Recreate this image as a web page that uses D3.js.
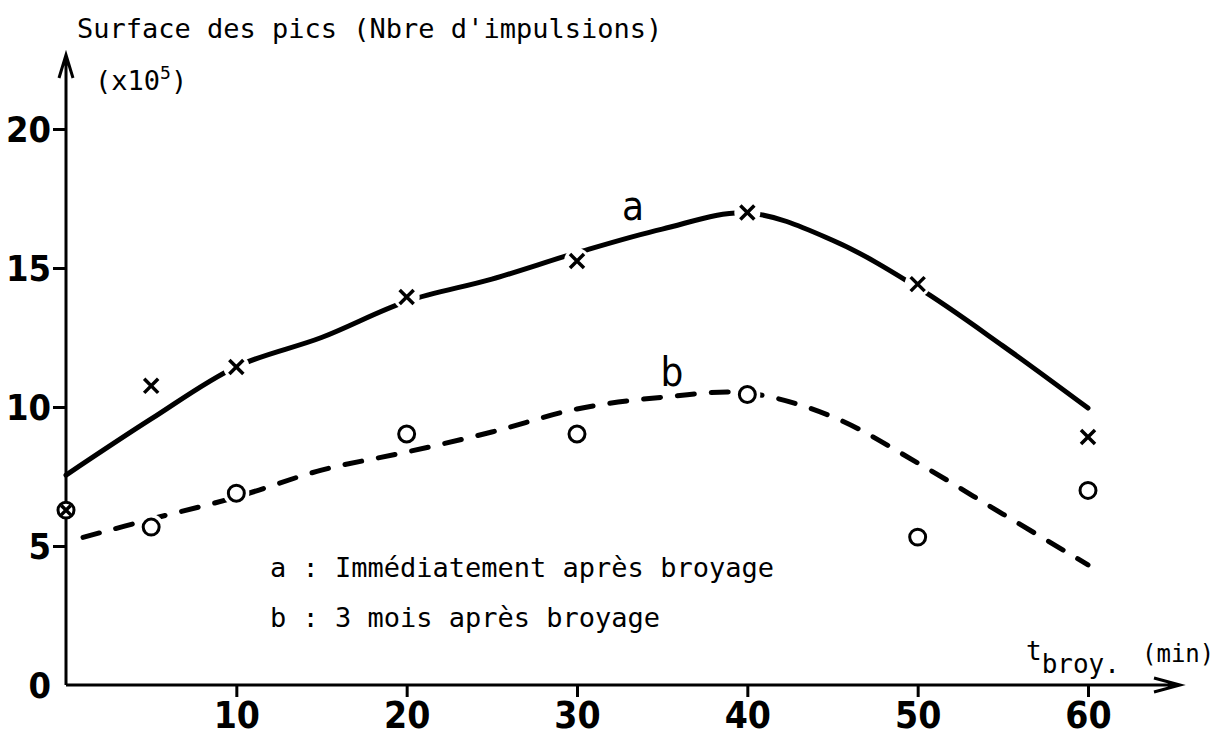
<!DOCTYPE html>
<html>
<head>
<meta charset="utf-8">
<script src="https://cdn.jsdelivr.net/npm/d3@7"></script>
<style>
  body { margin: 0; background: #fff; }
  svg { display: block; }
</style>
</head>
<body>
<div id="chart"></div>
<script>
// measured points (x = grinding time in min, y = peak area x10^5)
const aTimes = [0, 5, 10, 20, 30, 40, 50, 60];
const aValues = [6.29, 10.76, 11.44, 13.96, 15.25, 17.0, 14.42, 8.92];
const bTimes = [0, 5, 10, 20, 30, 40, 50, 60];
const bValues = [6.29, 5.68, 6.9, 9.03, 9.03, 10.45, 5.32, 7.0];

// hand-drawn fitted curves
const aCurveTimes = [0, 5, 10, 15, 20, 25, 30, 35, 40, 45, 50, 55, 60];
const aCurveValues = [7.55, 9.57, 11.45, 12.5, 13.8, 14.6, 15.55, 16.4, 16.98, 16.0, 14.3, 12.2, 9.96];
const bCurveTimes = [1, 5, 10, 15, 20, 25, 30, 35, 40, 45, 50, 55, 60];
const bCurveValues = [5.31, 5.97, 6.76, 7.73, 8.38, 9.1, 9.93, 10.35, 10.5, 9.65, 7.99, 6.15, 4.32];

const xTicks = [10, 20, 30, 40, 50, 60];
const yTicks = [0, 5, 10, 15, 20];
const legendLines = ["a : Immédiatement après broyage", "b : 3 mois après broyage"];

const W = 1225, H = 740;
const numFont = '"DejaVu Sans Condensed", "DejaVu Sans", sans-serif';
const monoFont = '"DejaVu Sans Mono", "Liberation Mono", monospace';

const svg = d3.select('#chart').append('svg')
  .attr('width', W)
  .attr('height', H);

const x = d3.scaleLinear().domain([0, 60]).range([66, 1088]);
const y = d3.scaleLinear().domain([0, 20]).range([685, 129]);

// axes (lines with arrows)
svg.append('path')
  .attr('d', `M${x(0)},${y(0)}V55M${x(0) - 7},78L${x(0)},55L${x(0) + 7},78`)
  .attr('fill', 'none').attr('stroke', '#000').attr('stroke-width', 3);
svg.append('path')
  .attr('d', `M${x(0)},${y(0)}H1180M1154,${y(0) - 7}L1180,${y(0)}L1154,${y(0) + 7}`)
  .attr('fill', 'none').attr('stroke', '#000').attr('stroke-width', 3);

const yAxis = svg.append('g')
  .attr('transform', `translate(${x(0)},0)`)
  .call(d3.axisLeft(y).tickValues(yTicks).tickSize(13).tickPadding(2).tickFormat(d3.format('d')));
yAxis.select('.domain').remove();
yAxis.selectAll('.tick line').attr('stroke', '#000').attr('stroke-width', 3)
  .filter(d => d === 0).remove();
yAxis.selectAll('.tick text')
  .attr('dy', '0.36em')
  .style('font-family', numFont).style('font-size', '36px').style('font-weight', 'bold').attr('fill', '#000');

const xAxis = svg.append('g')
  .attr('transform', `translate(0,${y(0)})`)
  .call(d3.axisBottom(x).tickValues(xTicks).tickSize(12).tickPadding(4).tickFormat(d3.format('d')));
xAxis.select('.domain').remove();
xAxis.selectAll('.tick line').attr('stroke', '#000').attr('stroke-width', 3);
xAxis.selectAll('.tick text')
  .attr('dy', '0.72em')
  .style('font-family', numFont).style('font-size', '37px').style('font-weight', 'bold').attr('fill', '#000');

// fitted curves
const line = d3.line().x(d => x(d[0])).y(d => y(d[1])).curve(d3.curveCatmullRom.alpha(0.5));

svg.append('path')
  .datum(d3.zip(aCurveTimes, aCurveValues))
  .attr('fill', 'none')
  .attr('stroke', '#000')
  .attr('stroke-width', 5)
  .attr('stroke-linecap', 'round')
  .attr('d', line);

svg.append('path')
  .datum(d3.zip(bCurveTimes, bCurveValues))
  .attr('fill', 'none')
  .attr('stroke', '#000')
  .attr('stroke-width', 5)
  .attr('stroke-linecap', 'round')
  .attr('stroke-dasharray', '17 17')
  .attr('d', line);

// white gaps where the curve meets a point
const aPts = d3.zip(aTimes, aValues);
const bPts = d3.zip(bTimes, bValues);
svg.selectAll('.gap')
  .data(aPts.concat(bPts).filter(d => d[0] > 0))
  .join('circle')
  .attr('cx', d => x(d[0]))
  .attr('cy', d => y(d[1]))
  .attr('r', 13)
  .attr('fill', '#fff');

// markers
svg.selectAll('.ptb')
  .data(bPts)
  .join('path')
  .attr('transform', d => `translate(${x(d[0])},${y(d[1])})`)
  .attr('d', d3.symbol(d3.symbolCircle, 200))
  .attr('fill', '#fff')
  .attr('stroke', '#000')
  .attr('stroke-width', 3);

svg.selectAll('.pta')
  .data(aPts)
  .join('path')
  .attr('transform', d => `translate(${x(d[0])},${y(d[1])})`)
  .attr('d', d => d3.symbol(d3.symbolX, d[0] === 0 ? 60 : 130)())
  .attr('fill', 'none')
  .attr('stroke', '#000')
  .attr('stroke-width', 3.5);

// curve labels
svg.append('text')
  .attr('x', 633).attr('y', 220)
  .attr('text-anchor', 'middle')
  .style('font-family', numFont).style('font-size', '40px')
  .text('a');
svg.append('text')
  .attr('x', 672).attr('y', 386)
  .attr('text-anchor', 'middle')
  .style('font-family', numFont).style('font-size', '40px')
  .text('b');

// y title
svg.append('text')
  .attr('x', 77).attr('y', 38)
  .style('font-family', monoFont).style('font-size', '27px')
  .text('Surface des pics (Nbre d\'impulsions)');

const unit = svg.append('text')
  .attr('x', 95).attr('y', 90)
  .style('font-family', monoFont).style('font-size', '27px');
unit.append('tspan').text('(x10');
unit.append('tspan').attr('dy', -11).style('font-size', '18px').text('5');
unit.append('tspan').attr('dy', 11).text(')');

// x title
const xt = svg.append('text')
  .attr('x', 1026).attr('y', 660)
  .style('font-family', monoFont).style('font-size', '26px');
xt.append('tspan').text('t');
xt.append('tspan').attr('dy', 13).text('broy.');

svg.append('text')
  .attr('x', 1142).attr('y', 662)
  .style('font-family', monoFont).style('font-size', '24px')
  .text('(min)');

// legend
svg.selectAll('.legend')
  .data(legendLines)
  .join('text')
  .attr('x', 270)
  .attr('y', (d, i) => 577 + i * 50)
  .style('font-family', monoFont).style('font-size', '27px')
  .text(d => d);
</script>
</body>
</html>
